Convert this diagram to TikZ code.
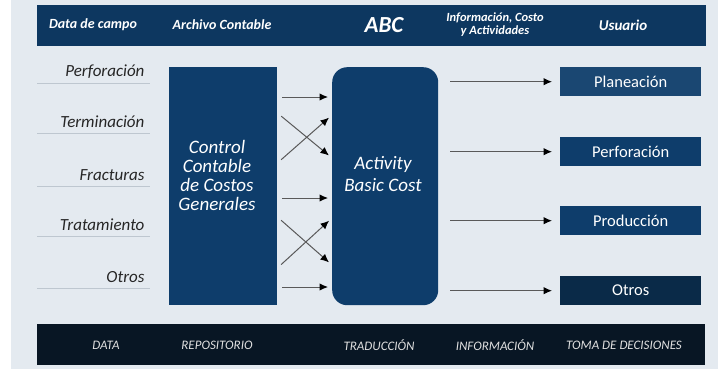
\documentclass[tikz,border=0pt]{standalone}
\usepackage{fontspec}
\setmainfont{Carlito}
\usetikzlibrary{arrows.meta, positioning}
\definecolor{fondo}{RGB}{228,234,240}
\definecolor{azul}{RGB}{14,61,107}
\definecolor{azulos}{RGB}{10,42,72}
\definecolor{noche}{RGB}{8,22,36}
\definecolor{raya}{RGB}{190,199,208}

\begin{document}
\begin{tikzpicture}[x=1pt,y=-1pt,
		caja/.style={fill=azul, inner sep=0pt, anchor=north west},
		usuario/.style={caja, minimum width=141, minimum height=29, text=white, font=\fontsize{16.5}{16.5}\selectfont},
		cabeza/.style={text=white, font=\fontsize{14}{14}\selectfont\bfseries\itshape, align=center},
		pie/.style={text=white!88!black, font=\fontsize{13}{13}\selectfont\itshape},
		dato/.style={anchor=east, text=black!85, font=\fontsize{17}{17}\selectfont\itshape},
		flecha/.style={-{Latex[length=8.5pt,width=7.5pt,color=black]}, draw=black!65, line width=1pt, shorten <=5pt, shorten >=4pt}]
	\useasboundingbox (0,0) rectangle (725,370);
	\fill [white] (0,0) rectangle (725,370);
	\fill [fondo] (11,0) rectangle (718,369);
	\node [caja, fill=azul!90!black, minimum width=669, minimum height=41] (cab) at (37,5) {};
	\node [cabeza] (c1) at (93,25) {Data de campo};
	\node [cabeza] (c2) at (222,25) {Archivo Contable};
	\node [cabeza, font=\fontsize{23}{23}\selectfont\bfseries\itshape] (c3) at (384,25) {ABC};
	\node [cabeza, font=\fontsize{12.5}{13}\selectfont\bfseries\itshape] (c4) at (495,25) {Información, Costo\\y Actividades};
	\node [cabeza, font=\fontsize{15}{15}\selectfont\bfseries\itshape] (c5) at (623,25) {Usuario};
	\foreach \t/\y in {Perforación/72, Terminación/122, Fracturas/175, Tratamiento/225, Otros/277}
		{\node [dato] (d\y) at (148,\y) {\t};
		\draw [raya, line width=0.8pt] (37,\y+11) -- (150,\y+11);}
	\node [caja, minimum width=108, minimum height=238] (ctrl) at (169,67) {};
	\node [text=white, align=center, font=\fontsize{19}{19}\selectfont\itshape] (ctrltxt) at (217,175) {Control\\Contable\\de Costos\\Generales};
	\node [caja, rounded corners=15pt, minimum width=106, minimum height=238] (abc) at (332,67) {};
	\node [text=white, align=center, font=\fontsize{19}{22}\selectfont\itshape] (abctxt) at (383,174) {Activity\\Basic Cost};
	\draw [flecha] (ctrl.east |- 0,97) -- (abc.west |- 0,97);
	\draw [flecha] (ctrl.east |- 0,113) -- (abc.west |- 0,158);
	\draw [flecha] (ctrl.east |- 0,163) -- (abc.west |- 0,115);
	\draw [flecha] (ctrl.east |- 0,198) -- (abc.west |- 0,198);
	\draw [flecha] (ctrl.east |- 0,217) -- (abc.west |- 0,265);
	\draw [flecha] (ctrl.east |- 0,268) -- (abc.west |- 0,218);
	\draw [flecha] (ctrl.east |- 0,287) -- (abc.west |- 0,287);
	\node [usuario, fill=azul!95!white] (u1) at (560,67) {Planeación};
	\node [usuario] (u2) at (560,137) {Perforación};
	\node [usuario] (u3) at (560,206) {Producción};
	\node [usuario, fill=azulos] (u4) at (560,276) {Otros};
	\foreach \u in {u1,u2,u3,u4}
		\draw [flecha, shorten <=12pt, shorten >=8pt] (abc.east |- \u.west) -- (\u.west);
	\node [caja, fill=noche, minimum width=668, minimum height=41] (pieb) at (37,324) {};
	\node [pie] (p1) at (106,345) {DATA};
	\node [pie] (p2) at (217,345) {REPOSITORIO};
	\node [pie] (p3) at (379,345) {TRADUCCIÓN};
	\node [pie] (p4) at (495,345) {INFORMACIÓN};
	\node [pie] (p5) at (624,345) {TOMA DE DECISIONES};
\end{tikzpicture}
\end{document}
